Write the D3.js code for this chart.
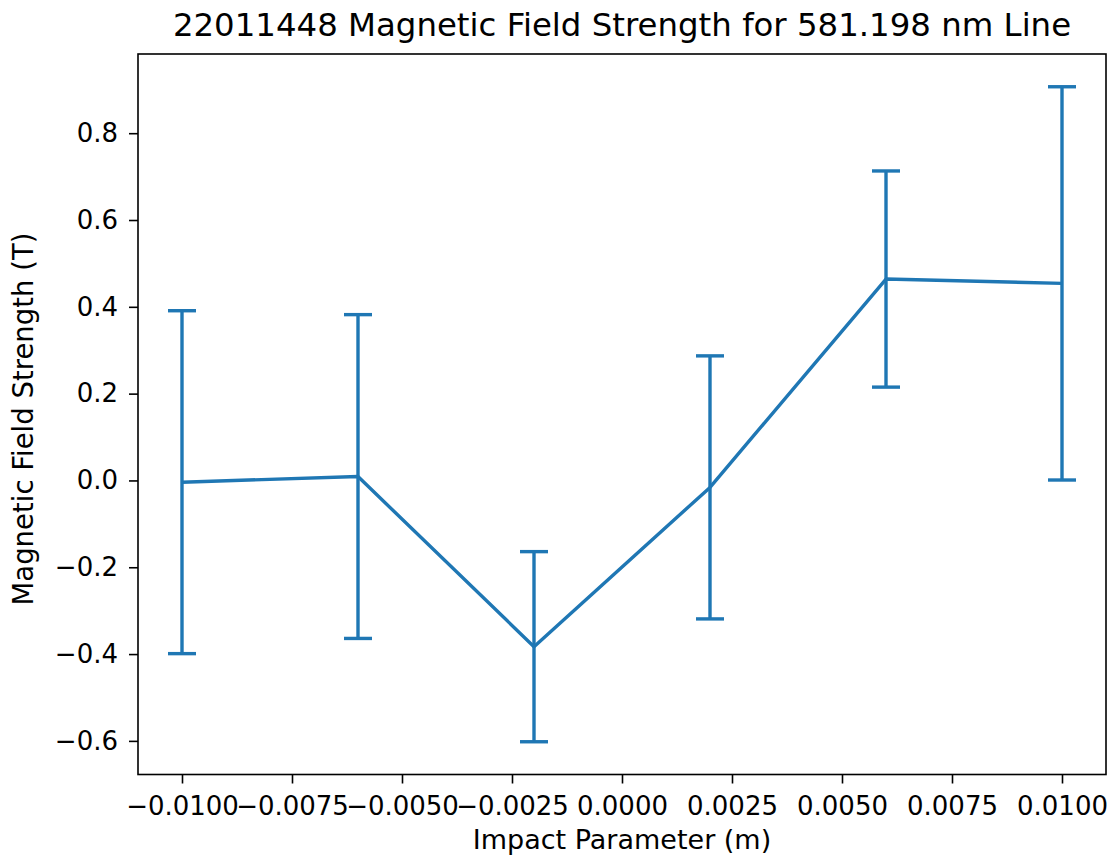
<!DOCTYPE html>
<html>
<head>
<meta charset="utf-8">
<script src="https://cdn.jsdelivr.net/npm/d3@7"></script>
<style>
  body { margin: 0; background: #fff; }
  text { font-family: "DejaVu Sans", sans-serif; fill: #000; }
</style>
</head>
<body>
<div id="chart"></div>
<script>
// Données
const impactParams = [-0.01, -0.006, -0.002, 0.002, 0.006, 0.01];
const fieldStrength = [-0.004, 0.009, -0.383, -0.016, 0.464, 0.454];
const fieldError = [0.395, 0.373, 0.219, 0.303, 0.249, 0.453];
const xTicks = [-0.01, -0.0075, -0.005, -0.0025, 0, 0.0025, 0.005, 0.0075, 0.01];
const yTicks = [-0.6, -0.4, -0.2, 0.0, 0.2, 0.4, 0.6, 0.8];

const width = 1114, height = 860;
const plot = { left: 138, right: 1106, top: 54, bottom: 774.5 };
const color = "#1f77b4";

const points = impactParams.map((x, i) => ({ x, y: fieldStrength[i], e: fieldError[i] }));

// marges de 5% comme matplotlib
const xMin = d3.min(impactParams), xMax = d3.max(impactParams);
const xPad = (xMax - xMin) * 0.05;
const yMin = d3.min(points, d => d.y - d.e), yMax = d3.max(points, d => d.y + d.e);
const yPad = (yMax - yMin) * 0.05;

const x = d3.scaleLinear().domain([xMin - xPad, xMax + xPad]).range([plot.left, plot.right]);
const y = d3.scaleLinear().domain([yMin - yPad, yMax + yPad]).range([plot.bottom, plot.top]);

const svg = d3.select("#chart")
  .append("svg")
  .attr("width", width)
  .attr("height", height);

svg.append("rect")
  .attr("width", width)
  .attr("height", height)
  .attr("fill", "#fff");

// Axes
const xAxis = svg.append("g")
  .attr("transform", `translate(0,${plot.bottom})`)
  .call(d3.axisBottom(x).tickValues(xTicks).tickFormat(d3.format(".4f")).tickSize(9).tickPadding(13));

const yAxis = svg.append("g")
  .attr("transform", `translate(${plot.left},0)`)
  .call(d3.axisLeft(y).tickValues(yTicks).tickFormat(d3.format(".1f")).tickSize(9).tickPadding(11));

[xAxis, yAxis].forEach(g => {
  g.select(".domain").remove();
  g.selectAll(".tick line").attr("stroke", "#000").attr("stroke-width", 1.6);
  g.selectAll(".tick text")
    .attr("font-size", "26px")
    .attr("font-family", "DejaVu Sans, sans-serif")
    .attr("fill", "#000");
});

// Barres d'erreur
const bars = svg.append("g")
  .attr("stroke", color)
  .attr("stroke-width", 3.4)
  .attr("fill", "none");

bars.selectAll("line.err")
  .data(points)
  .enter()
  .append("line")
  .attr("class", "err")
  .attr("x1", d => x(d.x))
  .attr("x2", d => x(d.x))
  .attr("y1", d => y(d.y - d.e))
  .attr("y2", d => y(d.y + d.e));

bars.selectAll("line.cap")
  .data(points.flatMap(d => [d.y - d.e, d.y + d.e].map(v => ({ x: d.x, v }))))
  .enter()
  .append("line")
  .attr("class", "cap")
  .attr("x1", d => x(d.x) - 14)
  .attr("x2", d => x(d.x) + 14)
  .attr("y1", d => y(d.v))
  .attr("y2", d => y(d.v));

// Ligne des données
svg.append("path")
  .datum(points)
  .attr("fill", "none")
  .attr("stroke", color)
  .attr("stroke-width", 3.4)
  .attr("stroke-linejoin", "round")
  .attr("d", d3.line().x(d => x(d.x)).y(d => y(d.y)));

// Cadre
svg.append("rect")
  .attr("x", plot.left)
  .attr("y", plot.top)
  .attr("width", plot.right - plot.left)
  .attr("height", plot.bottom - plot.top)
  .attr("fill", "none")
  .attr("stroke", "#000")
  .attr("stroke-width", 1.6);

// Titres
svg.append("text")
  .attr("x", (plot.left + plot.right) / 2)
  .attr("y", 36)
  .attr("text-anchor", "middle")
  .attr("font-size", "32.4px")
  .text("22011448 Magnetic Field Strength for 581.198 nm Line");

svg.append("text")
  .attr("x", (plot.left + plot.right) / 2)
  .attr("y", 849)
  .attr("text-anchor", "middle")
  .attr("font-size", "27px")
  .text("Impact Parameter (m)");

svg.append("text")
  .attr("transform", `translate(33,419) rotate(-90)`)
  .attr("text-anchor", "middle")
  .attr("font-size", "27.5px")
  .text("Magnetic Field Strength (T)");
</script>
</body>
</html>
